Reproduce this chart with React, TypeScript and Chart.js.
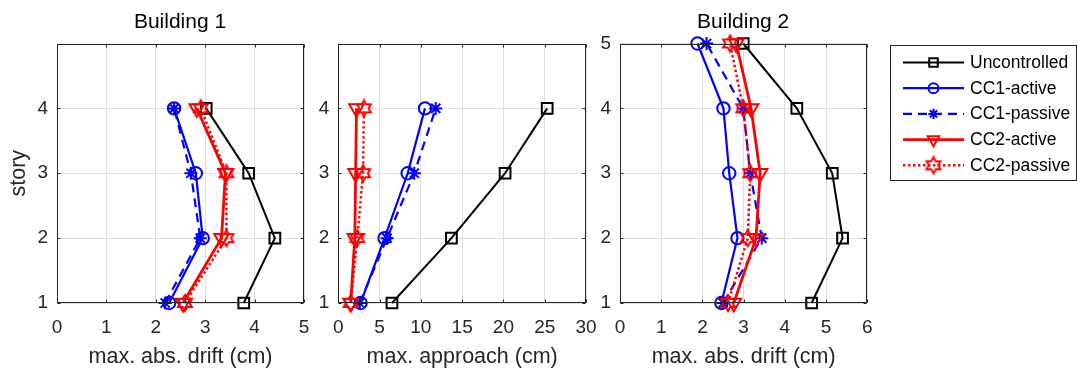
import React, { useEffect, useRef } from 'react';
import { Chart, registerables } from 'chart.js';
import { drawPoint } from 'chart.js/helpers';

Chart.register(...registerables);

// ---------- data ----------
const SERIES_NAMES = ['Uncontrolled', 'CC1-active', 'CC1-passive', 'CC2-active', 'CC2-passive'];

const STORIES_B1 = [1, 2, 3, 4];
const STORIES_B2 = [1, 2, 3, 4, 5];

const B1_TICKS_Y = [1, 2, 3, 4];
const B2_TICKS_Y = [1, 2, 3, 4, 5];

// Building 1 - max. abs. drift (cm), story 1..4
const B1_DRIFT_UNCONTROLLED = [3.78, 4.41, 3.88, 3.02];
const B1_DRIFT_CC1_ACTIVE = [2.27, 2.95, 2.81, 2.37];
const B1_DRIFT_CC1_PASSIVE = [2.19, 2.9, 2.71, 2.37];
const B1_DRIFT_CC2_ACTIVE = [2.55, 3.33, 3.41, 2.83];
const B1_DRIFT_CC2_PASSIVE = [2.59, 3.43, 3.43, 2.91];

// Building 1 - max. approach (cm), story 1..4
const B1_APPROACH_UNCONTROLLED = [6.5, 13.7, 20.2, 25.3];
const B1_APPROACH_CC1_ACTIVE = [2.7, 5.6, 8.4, 10.5];
const B1_APPROACH_CC1_PASSIVE = [2.6, 5.9, 9.2, 11.8];
const B1_APPROACH_CC2_ACTIVE = [1.5, 2.0, 2.1, 2.2];
const B1_APPROACH_CC2_PASSIVE = [1.5, 2.3, 3.0, 3.1];

// Building 2 - max. abs. drift (cm), story 1..5
const B2_DRIFT_UNCONTROLLED = [4.65, 5.4, 5.15, 4.29, 2.99];
const B2_DRIFT_CC1_ACTIVE = [2.46, 2.85, 2.65, 2.51, 1.88];
const B2_DRIFT_CC1_PASSIVE = [2.5, 3.44, 3.16, 2.99, 2.1];
const B2_DRIFT_CC2_ACTIVE = [2.76, 3.3, 3.4, 3.18, 2.82];
const B2_DRIFT_CC2_PASSIVE = [2.62, 3.1, 3.16, 2.99, 2.67];

// ---------- styling ----------
const FONT = '"Liberation Sans", Arial, Helvetica, sans-serif';
const TEXT = '#262626';
const GRID = '#dfdfdf';
const W = 1077;
const H = 374;

function makeHexagram(color: string) {
  const c = document.createElement('canvas');
  c.width = 20;
  c.height = 20;
  const g = c.getContext('2d')!;
  const R = 8;
  const r = R / Math.sqrt(3);
  g.beginPath();
  for (let i = 0; i < 12; i++) {
    const a = -Math.PI / 2 + (i * Math.PI) / 6;
    const rr = i % 2 === 0 ? R : r;
    const px = 10 + rr * Math.cos(a);
    const py = 10 + rr * Math.sin(a);
    if (i === 0) g.moveTo(px, py);
    else g.lineTo(px, py);
  }
  g.closePath();
  g.strokeStyle = color;
  g.lineWidth = 2;
  g.lineJoin = 'miter';
  g.stroke();
  return c;
}

function seriesStyles() {
  return [
    { color: '#000000', width: 2, dash: [] as number[], pointStyle: 'rect' as any, radius: 7.6, rotation: 0, pbw: 2 },
    { color: '#0000ff', width: 2.2, dash: [] as number[], pointStyle: 'circle' as any, radius: 6.2, rotation: 0, pbw: 2 },
    { color: '#0000ff', width: 2.2, dash: [9, 6], pointStyle: 'star' as any, radius: 6.5, rotation: 0, pbw: 2 },
    { color: '#ff0000', width: 2.8, dash: [] as number[], pointStyle: 'triangle' as any, radius: 8.4, rotation: 180, pbw: 2 },
    { color: '#ff0000', width: 2.5, dash: [2.4, 2.6], pointStyle: makeHexagram('#ff0000') as any, radius: 8, rotation: 0, pbw: 2 },
  ];
}

function buildDatasets(stories: number[], series: number[][], styles: any[]) {
  return series.map((vals, i) => {
    const s = styles[i];
    return {
      label: SERIES_NAMES[i],
      data: vals.map((v, k) => ({ x: v, y: stories[k] })),
      borderColor: s.color,
      backgroundColor: 'rgba(0,0,0,0)',
      borderWidth: s.width,
      borderDash: s.dash,
      pointStyle: s.pointStyle,
      pointRadius: s.radius,
      pointRotation: s.rotation,
      pointBorderWidth: s.pbw,
      pointBorderColor: s.color,
      pointBackgroundColor: 'rgba(0,0,0,0)',
      showLine: true,
      tension: 0,
      clip: false as any,
      order: series.length - 1 - i,
    };
  });
}

function framePlugin(title: string | null) {
  return {
    id: 'frame',
    afterDraw(chart: any) {
      const { ctx, chartArea } = chart;
      const { left, right, top, bottom } = chartArea;
      ctx.save();
      ctx.strokeStyle = TEXT;
      ctx.lineWidth = 1;
      const l = Math.round(left) + 0.5;
      const r = Math.round(right) - 0.5;
      const t = Math.round(top) + 0.5;
      const b = Math.round(bottom) - 0.5;
      ctx.strokeRect(l, t, r - l, b - t);
      // inward ticks
      const tl = 3;
      ctx.beginPath();
      const xs = chart.scales.x;
      xs.ticks.forEach((tk: any) => {
        const px = Math.round(xs.getPixelForValue(tk.value)) + 0.5;
        ctx.moveTo(px, b);
        ctx.lineTo(px, b - tl);
        ctx.moveTo(px, t);
        ctx.lineTo(px, t + tl);
      });
      const ys = chart.scales.y;
      ys.ticks.forEach((tk: any) => {
        const py = Math.round(ys.getPixelForValue(tk.value)) + 0.5;
        ctx.moveTo(l, py);
        ctx.lineTo(l + tl, py);
        ctx.moveTo(r, py);
        ctx.lineTo(r - tl, py);
      });
      ctx.stroke();
      if (title) {
        ctx.fillStyle = '#000000';
        ctx.font = `21px ${FONT}`;
        ctx.textAlign = 'center';
        ctx.textBaseline = 'alphabetic';
        ctx.fillText(title, (left + right) / 2 - 0.5, 27.5);
      }
      ctx.restore();
    },
  };
}

function legendPlugin(styles: any[]) {
  return {
    id: 'customLegend',
    afterDraw(chart: any) {
      const ctx: CanvasRenderingContext2D = chart.ctx;
      ctx.save();
      const bx = 890.5;
      const by = 45.5;
      const bw = 186;
      const bh = 135;
      ctx.fillStyle = '#ffffff';
      ctx.fillRect(bx, by, bw, bh);
      ctx.strokeStyle = TEXT;
      ctx.lineWidth = 1;
      ctx.strokeRect(bx, by, bw, bh);
      SERIES_NAMES.forEach((name, i) => {
        const s = styles[i];
        const y = 62.5 + 25.7 * i;
        ctx.save();
        ctx.strokeStyle = s.color;
        ctx.lineWidth = s.width;
        ctx.setLineDash(s.dash);
        ctx.beginPath();
        ctx.moveTo(903, y);
        ctx.lineTo(964, y);
        ctx.stroke();
        ctx.setLineDash([]);
        ctx.lineWidth = s.pbw;
        ctx.fillStyle = 'rgba(0,0,0,0)';
        drawPoint(ctx, { pointStyle: s.pointStyle, radius: s.radius * 0.8, rotation: s.rotation, borderWidth: s.pbw } as any, 933.5, y);
        ctx.restore();
        ctx.fillStyle = '#000000';
        ctx.font = `17.5px ${FONT}`;
        ctx.textAlign = 'left';
        ctx.textBaseline = 'middle';
        ctx.fillText(name, 970, y + 0.5);
      });
      ctx.restore();
    },
  };
}

function makeConfig(opts: {
  stories: number[];
  series: number[][];
  xMax: number;
  xStep: number;
  yTicks: number[];
  yWidth: number;
  padLeft: number;
  padRight: number;
  xTitle: string;
  yTitle: string | null;
  title: string | null;
  legend: boolean;
}) {
  const styles = seriesStyles();
  const plugins: any[] = [framePlugin(opts.title)];
  if (opts.legend) plugins.push(legendPlugin(styles));
  return {
    type: 'line' as const,
    data: { datasets: buildDatasets(opts.stories, opts.series, styles) as any },
    plugins,
    options: {
      responsive: false,
      animation: false as const,
      devicePixelRatio: 1,
      events: [] as any,
      layout: { padding: { left: opts.padLeft, right: opts.padRight, top: 43.5, bottom: 0 } },
      plugins: { legend: { display: false }, tooltip: { enabled: false }, title: { display: false } },
      scales: {
        x: {
          type: 'linear' as const,
          min: 0,
          max: opts.xMax,
          ticks: {
            stepSize: opts.xStep,
            autoSkip: false,
            maxRotation: 0,
            padding: 13,
            color: TEXT,
            font: { family: FONT, size: 19 },
          },
          grid: { color: GRID, drawTicks: false, lineWidth: 1 },
          border: { display: false },
          title: {
            display: true,
            text: opts.xTitle,
            color: TEXT,
            font: { family: FONT, size: 21.5 },
            padding: { top: 0, bottom: 4.5 },
          },
          afterFit: (s: any) => {
            s.height = 71;
          },
        },
        y: {
          type: 'linear' as const,
          min: 1,
          max: 5,
          afterBuildTicks: (s: any) => {
            s.ticks = opts.yTicks.map((v) => ({ value: v }));
          },
          ticks: {
            padding: 9,
            color: TEXT,
            font: { family: FONT, size: 19 },
          },
          grid: { color: GRID, drawTicks: false, lineWidth: 1 },
          border: { display: false },
          title: {
            display: !!opts.yTitle,
            text: opts.yTitle || '',
            color: TEXT,
            font: { family: FONT, size: 21.5 },
            padding: { top: 6.5, bottom: 0 },
          },
          afterFit: (s: any) => {
            s.width = opts.yWidth;
          },
        },
      },
    },
  };
}

function Panel({ config }: { config: any }) {
  const ref = useRef<HTMLCanvasElement | null>(null);
  useEffect(() => {
    if (!ref.current) return;
    const chart = new Chart(ref.current, config);
    return () => chart.destroy();
  }, [config]);
  return (
    <canvas
      ref={ref}
      width={W}
      height={H}
      style={{ position: 'absolute', left: 0, top: 0, width: W, height: H }}
    />
  );
}

const CONFIGS = [
  makeConfig({
    stories: STORIES_B1,
    series: [B1_DRIFT_UNCONTROLLED, B1_DRIFT_CC1_ACTIVE, B1_DRIFT_CC1_PASSIVE, B1_DRIFT_CC2_ACTIVE, B1_DRIFT_CC2_PASSIVE],
    xMax: 5,
    xStep: 1,
    yTicks: B1_TICKS_Y,
    yWidth: 57,
    padLeft: 0,
    padRight: W - 304,
    xTitle: 'max. abs. drift (cm)',
    yTitle: 'story',
    title: 'Building 1',
    legend: false,
  }),
  makeConfig({
    stories: STORIES_B1,
    series: [B1_APPROACH_UNCONTROLLED, B1_APPROACH_CC1_ACTIVE, B1_APPROACH_CC1_PASSIVE, B1_APPROACH_CC2_ACTIVE, B1_APPROACH_CC2_PASSIVE],
    xMax: 30,
    xStep: 5,
    yTicks: B1_TICKS_Y,
    yWidth: 30,
    padLeft: 308.3,
    padRight: W - 586,
    xTitle: 'max. approach (cm)',
    yTitle: null,
    title: null,
    legend: false,
  }),
  makeConfig({
    stories: STORIES_B2,
    series: [B2_DRIFT_UNCONTROLLED, B2_DRIFT_CC1_ACTIVE, B2_DRIFT_CC1_PASSIVE, B2_DRIFT_CC2_ACTIVE, B2_DRIFT_CC2_PASSIVE],
    xMax: 6,
    xStep: 1,
    yTicks: B2_TICKS_Y,
    yWidth: 22,
    padLeft: 598,
    padRight: W - 867.3,
    xTitle: 'max. abs. drift (cm)',
    yTitle: null,
    title: 'Building 2',
    legend: true,
  }),
];

export default function App() {
  return (
    <div style={{ position: 'absolute', left: 0, top: 0, width: W, height: H, background: '#ffffff' }}>
      {CONFIGS.map((c, i) => (
        <Panel key={i} config={c} />
      ))}
    </div>
  );
}
